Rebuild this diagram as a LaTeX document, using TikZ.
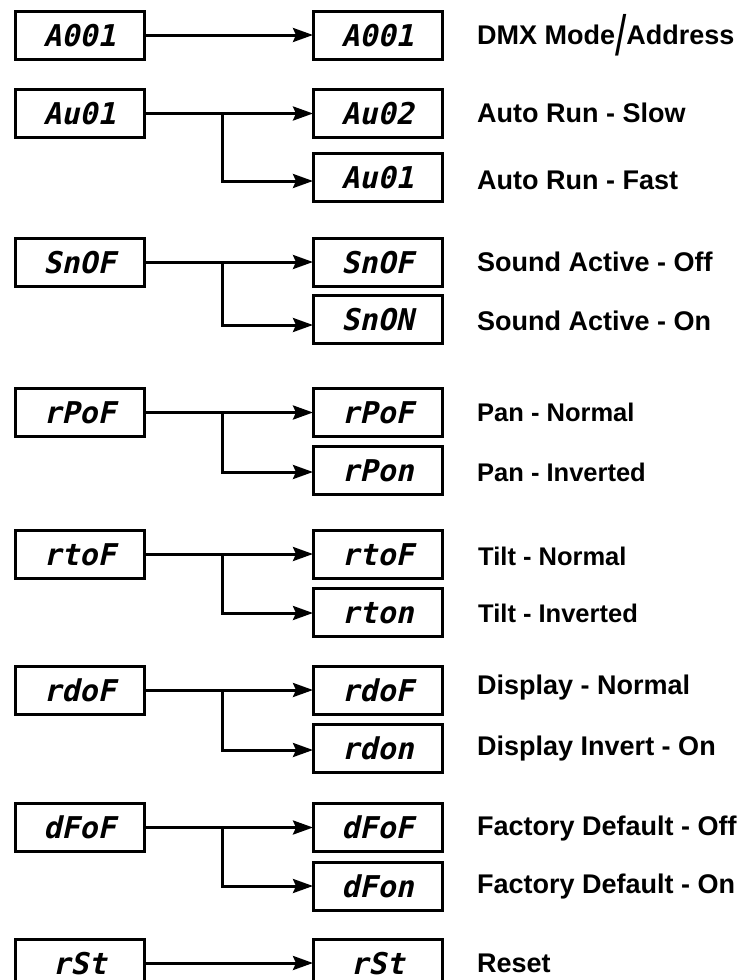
\documentclass[tikz,border=0pt]{standalone}
\usepackage{fontspec}
\usepackage{graphicx}
\setmainfont{Liberation Sans}
\newfontfamily\lcdfont{DejaVu Sans Mono}[FakeSlant=0.22]
\usetikzlibrary{arrows.meta}
\tikzset{
  lcdbox/.style={draw, line width=3pt, minimum width=129pt, minimum height=48pt,
    inner sep=0pt, outer sep=0pt, text height=22pt, text depth=0pt,
    font=\lcdfont\bfseries\fontsize{30}{30}\selectfont},
  lbl/.style={anchor=base west, inner sep=0pt, font=\bfseries\fontsize{27}{27}\selectfont},
  lbls/.style={anchor=base west, inner sep=0pt, font=\bfseries\fontsize{25.5}{25.5}\selectfont},
  conn/.style={line width=3pt, -{Stealth[length=20pt,width=14pt,inset=3pt]}},
}
\begin{document}
\begin{tikzpicture}[x=1pt,y=-1pt]
\useasboundingbox (0,0) rectangle (749,980);
% row 1
\node[lcdbox] (l1) at (79.5,35) {A001};
\node[lcdbox] (r1) at (377.5,35) {A001};
\draw[conn] (l1) -- (r1);
\node[lbl] (t1) at (477,44.7) {DMX Mode\raisebox{-11pt}{\scalebox{1.5}[2.1]{\mdseries /}}Address};
% row 2
\node[lcdbox] (l2) at (79.5,113.5) {Au01};
\node[lcdbox] (r2a) at (377.5,113.5) {Au02};
\node[lcdbox] (r2b) at (377.5,177) {Au01};
\coordinate (b2) at (222,113.5);
\draw[conn] (l2) -- (r2a);
\draw[conn] (b2) |- ([yshift=-4pt]r2b.west);
\node[lbl] (t2a) at (477,122.5) {Auto Run - Slow};
\node[lbl] (t2b) at (477,189) {Auto Run - Fast};
% row 3
\node[lcdbox] (l3) at (79.5,262) {SnOF};
\node[lcdbox] (r3a) at (377.5,262) {SnOF};
\node[lcdbox] (r3b) at (377.5,319.5) {SnON};
\coordinate (b3) at (222,262);
\draw[conn] (l3) -- (r3a);
\draw[conn] (b3) |- ([yshift=-5.5pt]r3b.west);
\node[lbl] (t3a) at (477,271) {Sound Active - Off};
\node[lbl] (t3b) at (477,330) {Sound Active - On};
% row 4
\node[lcdbox] (l4) at (79.5,412.5) {rPoF};
\node[lcdbox] (r4a) at (377.5,412.5) {rPoF};
\node[lcdbox] (r4b) at (377.5,470) {rPon};
\coordinate (b4) at (222,412.5);
\draw[conn] (l4) -- (r4a);
\draw[conn] (b4) |- ([yshift=-2pt]r4b.west);
\node[lbls] (t4a) at (477,421.5) {Pan - Normal};
\node[lbls] (t4b) at (477,481.5) {Pan - Inverted};
% row 5
\node[lcdbox] (l5) at (79.5,554) {rtoF};
\node[lcdbox] (r5a) at (377.5,554) {rtoF};
\node[lcdbox] (r5b) at (377.5,612) {rton};
\coordinate (b5) at (222,554);
\draw[conn] (l5) -- (r5a);
\draw[conn] (b5) |- ([yshift=-1pt]r5b.west);
\node[lbls] (t5a) at (478,565) {Tilt - Normal};
\node[lbls] (t5b) at (478,622.5) {Tilt - Inverted};
% row 6
\node[lcdbox] (l6) at (79.5,690) {rdoF};
\node[lcdbox] (r6a) at (377.5,690) {rdoF};
\node[lcdbox] (r6b) at (377.5,748) {rdon};
\coordinate (b6) at (222,690);
\draw[conn] (l6) -- (r6a);
\draw[conn] (b6) |- ([yshift=-2pt]r6b.west);
\node[lbl] (t6a) at (477,694) {Display - Normal};
\node[lbl] (t6b) at (477,755) {Display Invert - On};
% row 7
\node[lcdbox] (l7) at (79.5,827.5) {dFoF};
\node[lcdbox] (r7a) at (377.5,827.5) {dFoF};
\node[lcdbox] (r7b) at (377.5,886) {dFon};
\coordinate (b7) at (222,827.5);
\draw[conn] (l7) -- (r7a);
\draw[conn] (b7) |- (r7b.west);
\node[lbl] (t7a) at (477,835) {Factory Default - Off};
\node[lbl] (t7b) at (477,893) {Factory Default - On};
% row 8
\node[lcdbox] (l8) at (79.5,963) {rSt};
\node[lcdbox] (r8) at (377.5,963) {rSt};
\draw[conn] (l8) -- (r8);
\node[lbl] (t8) at (477,972.5) {Reset};
\end{tikzpicture}
\end{document}
